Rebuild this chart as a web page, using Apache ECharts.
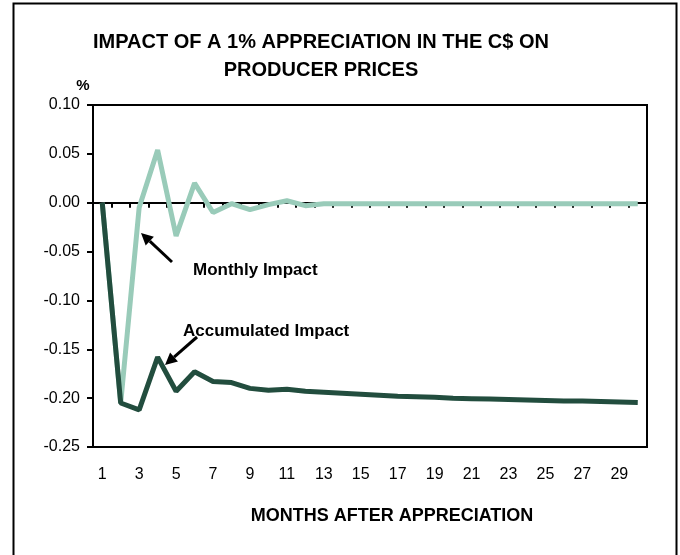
<!DOCTYPE html>
<html>
<head>
<meta charset="utf-8">
<script src="https://cdn.jsdelivr.net/npm/echarts@6/dist/echarts.min.js"></script>
<style>
  html, body { margin: 0; padding: 0; background: #fff; }
  #chart { width: 680px; height: 555px; }
</style>
</head>
<body>
<div id="chart"></div>
<script>
// months after appreciation
const months = Array.from({ length: 30 }, (_, i) => String(i + 1))

// monthly impact (%)
const monthlyImpact = [
  0, -0.205, -0.005, 0.054, -0.034, 0.020, -0.010, -0.001, -0.007, -0.002,
  0.002, -0.003, -0.001, -0.001, -0.001, -0.001, -0.001, -0.001, -0.001, -0.001,
  -0.001, -0.001, -0.001, -0.001, -0.001, -0.001, -0.001, -0.001, -0.001, -0.001
]

// accumulated impact (%)
const accumulatedImpact = [
  0, -0.205, -0.212, -0.158, -0.193, -0.173, -0.183, -0.184, -0.190, -0.192,
  -0.191, -0.193, -0.194, -0.195, -0.196, -0.197, -0.198, -0.1985, -0.199, -0.2,
  -0.2005, -0.201, -0.2015, -0.202, -0.2025, -0.203, -0.203, -0.2035, -0.204, -0.2045
]

const yTicks = { min: -0.25, max: 0.1, interval: 0.05 }

const FONT = '"Liberation Sans", Arial, sans-serif'
const chart = echarts.init(document.getElementById('chart'))

// arrow helper (line + filled head)
const arrow = (x1, y1, x2, y2) => {
  const dx = x2 - x1, dy = y2 - y1
  const len = Math.sqrt(dx * dx + dy * dy)
  const ux = dx / len, uy = dy / len
  const hl = 12, hw = 6
  const bx = x2 - ux * hl, by = y2 - uy * hl
  return [
    { type: 'line', shape: { x1: x1, y1: y1, x2: bx, y2: by }, style: { stroke: '#000', lineWidth: 3 }, z: 20 },
    {
      type: 'polygon',
      shape: { points: [[x2, y2], [bx - uy * hw, by + ux * hw], [bx + uy * hw, by - ux * hw]] },
      style: { fill: '#000' },
      z: 20
    }
  ]
}

const option = {
  animation: false,
  grid: {
    show: true,
    left: 93,
    top: 105,
    right: 33,
    bottom: 108,
    borderColor: '#000',
    borderWidth: 2
  },
  xAxis: [
    {
      type: 'category',
      data: months,
      boundaryGap: true,
      axisLine: { onZero: true, lineStyle: { color: '#000', width: 2 } },
      axisTick: { show: true, length: 5, lineStyle: { color: '#000', width: 2 } },
      axisLabel: { show: false },
      splitLine: { show: false }
    },
    {
      type: 'category',
      data: months,
      position: 'bottom',
      boundaryGap: true,
      axisLine: { show: false, onZero: false },
      axisTick: { show: false },
      axisLabel: {
        interval: 1,
        margin: 20,
        color: '#000',
        fontSize: 16,
        fontFamily: FONT
      },
      splitLine: { show: false }
    }
  ],
  yAxis: {
    type: 'value',
    min: yTicks.min,
    max: yTicks.max,
    interval: yTicks.interval,
    axisLine: { show: true, lineStyle: { color: '#000', width: 2 } },
    axisTick: { show: true, length: 6, lineStyle: { color: '#000', width: 2 } },
    axisLabel: {
      margin: 13,
      color: '#000',
      fontSize: 16,
      fontFamily: FONT,
      formatter: v => (Math.abs(v) < 1e-9 ? 0 : v).toFixed(2)
    },
    splitLine: { show: false }
  },
  series: [
    {
      name: 'Monthly Impact',
      type: 'line',
      data: monthlyImpact,
      symbol: 'none',
      lineStyle: { color: '#99cbb9', width: 5 },
      z: 3
    },
    {
      name: 'Accumulated Impact',
      type: 'line',
      data: accumulatedImpact,
      symbol: 'none',
      lineStyle: { color: '#224d3e', width: 5 },
      z: 4
    }
  ],
  graphic: [
    {
      type: 'rect',
      shape: { x: 13.5, y: 3.5, width: 663, height: 600 },
      style: { fill: 'none', stroke: '#000', lineWidth: 2 },
      silent: true
    },
    {
      type: 'text',
      x: 321, y: 42,
      style: {
        text: 'IMPACT OF A 1% APPRECIATION IN THE C$ ON',
        font: 'bold 20px ' + FONT,
        fill: '#000', textAlign: 'center', textVerticalAlign: 'middle'
      }
    },
    {
      type: 'text',
      x: 321, y: 70,
      style: {
        text: 'PRODUCER PRICES',
        font: 'bold 20px ' + FONT,
        fill: '#000', textAlign: 'center', textVerticalAlign: 'middle'
      }
    },
    {
      type: 'text',
      x: 83, y: 86,
      style: {
        text: '%',
        font: 'bold 15px ' + FONT,
        fill: '#000', textAlign: 'center', textVerticalAlign: 'middle'
      }
    },
    {
      type: 'text',
      x: 392, y: 516,
      style: {
        text: 'MONTHS AFTER APPRECIATION',
        font: 'bold 18px ' + FONT,
        fill: '#000', textAlign: 'center', textVerticalAlign: 'middle'
      }
    },
    {
      type: 'text',
      x: 193, y: 270,
      style: {
        text: 'Monthly Impact',
        font: 'bold 17px ' + FONT,
        fill: '#000', textAlign: 'left', textVerticalAlign: 'middle'
      }
    },
    {
      type: 'text',
      x: 183, y: 331,
      style: {
        text: 'Accumulated Impact',
        font: 'bold 17px ' + FONT,
        fill: '#000', textAlign: 'left', textVerticalAlign: 'middle'
      }
    },
    ...arrow(172, 262, 141, 233),
    ...arrow(197, 337, 165, 365)
  ]
}

chart.setOption(option)
</script>
</body>
</html>
